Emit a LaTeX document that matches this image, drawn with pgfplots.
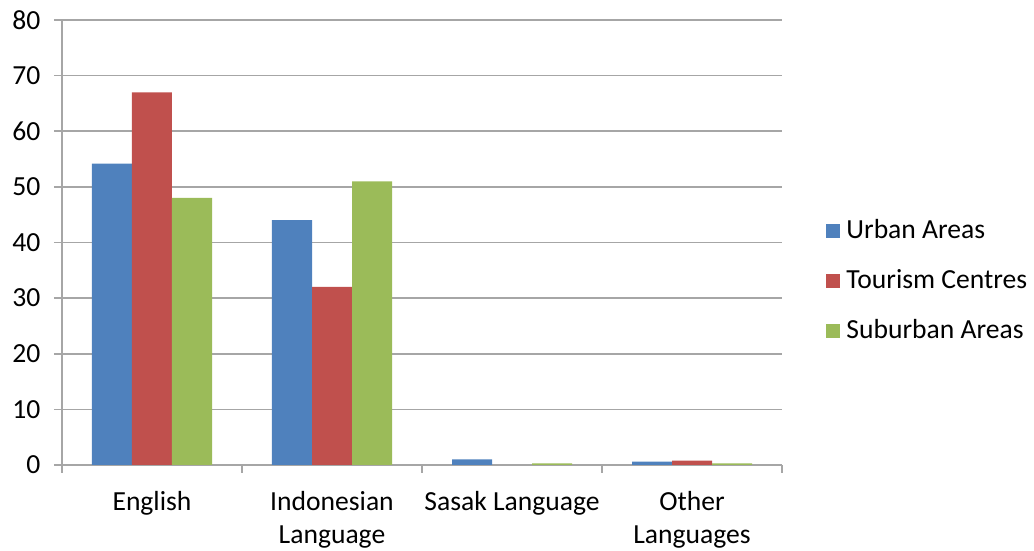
\documentclass[border=0pt]{standalone}
\usepackage{fontspec}
\setmainfont{Carlito}
\usepackage{pgfplots}
\pgfplotsset{compat=1.18}
\definecolor{cblue}{HTML}{4F81BD}
\definecolor{cred}{HTML}{C0504D}
\definecolor{cgreen}{HTML}{9BBB59}
\definecolor{cgrid}{HTML}{A6A6A6}
\begin{document}
\fontsize{13.8}{16.5}\selectfont
\begin{tikzpicture}
\useasboundingbox (-31pt,-43pt) rectangle (486pt,232.5pt);
\begin{axis}[
  at={(0pt,0pt)}, anchor=south west,
  scale only axis,
  width=360pt, height=222.5pt,
  xmin=-0.5, xmax=3.5,
  ymin=0, ymax=80,
  ytick={0,10,...,80},
  xtick={0,1,2,3},
  xticklabels={English,{Indonesian\\Language},{Sasak Language},{Other\\Languages}},
  xticklabel style={align=center, font=\fontsize{13.8}{16.5}\selectfont, yshift=-4.5pt},
  yticklabel style={font=\fontsize{13.8}{16.5}\selectfont, xshift=-2pt},
  major x tick style={draw=none},
  minor xtick={-0.5,0.5,1.5,2.5,3.5},
  minor x tick style={draw=cgrid, thick},
  minor tick length=4pt,
  major tick length=4pt,
  tick align=outside,
  y tick style={draw=cgrid, thick},
  axis x line*=bottom,
  axis y line*=left,
  axis line style={draw=cgrid, thick, -},
  ymajorgrids,
  grid style={draw=cgrid, thick},
  /pgf/number format/assume math mode=true,
  ybar=0pt,
  bar width=20pt,
  legend style={at={(382pt,91pt)}, anchor=west, draw=none, fill=none,
    inner sep=0pt, row sep=13pt, font=\fontsize{13.8}{16.5}\selectfont,
    nodes={text height=9pt, text depth=3pt, inner sep=0pt, inner xsep=3pt}},
  legend cell align=left,
  legend image code/.code={\fill[#1] (0pt,-2.5pt) rectangle (7pt,4.5pt);},
]
\addplot[fill=cblue, draw=none] coordinates {(0,54.2) (1,44) (2,1.0) (3,0.6)};
\addplot[fill=cred, draw=none] coordinates {(0,67) (1,32) (3,0.8)};
\addplot[fill=cgreen, draw=none] coordinates {(0,48) (1,51) (2,0.3) (3,0.3)};
\legend{Urban Areas, Tourism Centres, Suburban Areas}
\end{axis}
\end{tikzpicture}
\end{document}
